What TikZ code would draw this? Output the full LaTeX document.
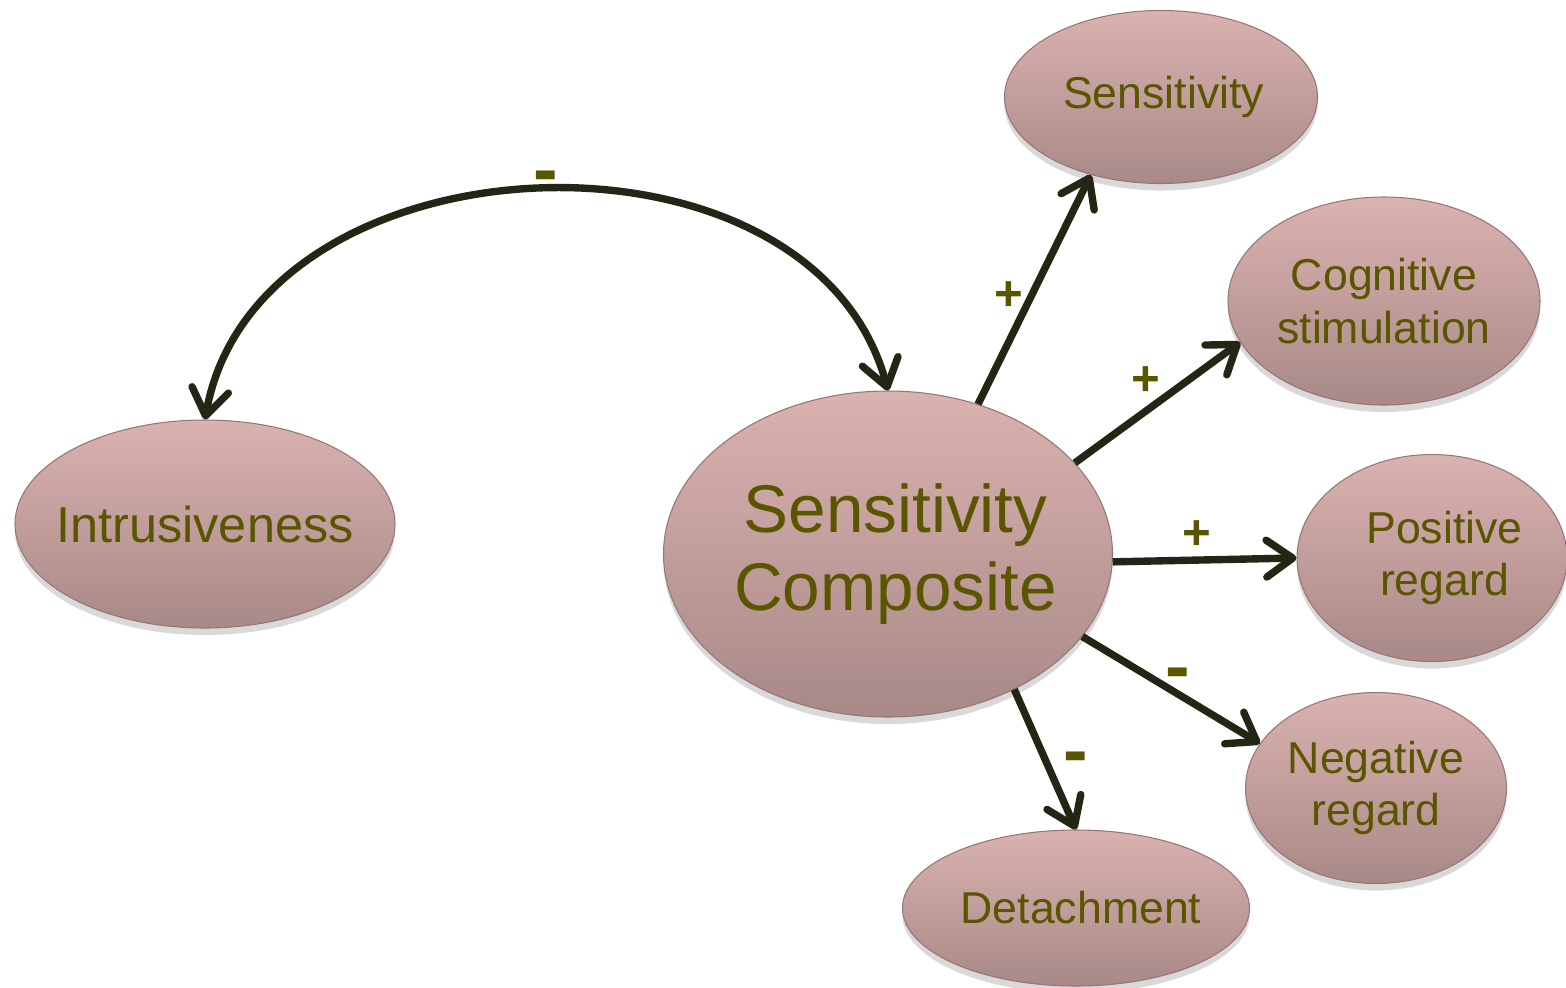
\documentclass[tikz,border=0pt]{standalone}
\usepackage{fontspec}
\setmainfont{Liberation Sans}
\usepackage{tikz}
\usetikzlibrary{shapes.geometric, arrows.meta, shadows, positioning}

\definecolor{labeltext}{RGB}{90,86,0}
\definecolor{arrowdark}{RGB}{35,38,20}
\definecolor{ovaltop}{RGB}{218,178,176}
\definecolor{ovalbottom}{RGB}{168,137,135}
\definecolor{ovalrim}{RGB}{150,118,116}

\begin{document}
\begin{tikzpicture}[
      oval/.style={ellipse, draw=ovalrim, line width=0.6pt, top color=ovaltop, bottom color=ovalbottom, inner xsep=-0.5cm, inner ysep=0pt, align=center, text=labeltext, drop shadow={shadow xshift=0pt, shadow yshift=-4pt, opacity=0.3}},
      small/.style={font=\fontsize{25.4}{30}\selectfont},
      barb/.tip={Straight Barb[length=15pt, width=21pt, round]},
      arrow/.style={line width=4.2pt, draw=arrowdark, -barb},
      twoway/.style={line width=4.2pt, draw=arrowdark, barb-barb},
      sign/.style={font=\fontsize{28}{30}\selectfont\bfseries, text=labeltext, inner sep=0pt},
      minus/.style={font=\fontsize{42}{44}\selectfont\bfseries, text=labeltext, inner sep=0pt}
    ]
    \useasboundingbox (0,0) rectangle (31.32,-19.74);

    % Nodes
    \node (comp) [oval, minimum width=8.98cm, minimum height=6.52cm, font=\fontsize{38.4}{44.3}\selectfont] at (17.76,-11.08) {\hspace*{0.3cm}Sensitivity\\\hspace*{0.3cm}Composite};
    \node (intr) [oval, minimum width=7.60cm, minimum height=4.16cm, font=\fontsize{28.7}{32}\selectfont] at (4.10,-10.48) {Intrusiveness};
    \node (sens) [oval, small, minimum width=6.26cm, minimum height=3.46cm] at (23.22,-1.94) {\hspace*{0.1cm}Sensitivity};
    \node (cog) [oval, small, minimum width=6.24cm, minimum height=4.16cm] at (27.68,-6.02) {Cognitive\\stimulation};
    \node (posr) [oval, small, minimum width=5.40cm, minimum height=4.14cm] at (28.64,-11.16) {\hspace*{0.5cm}Positive\\\hspace*{0.5cm}regard};
    \node (negr) [oval, small, minimum width=5.22cm, minimum height=3.82cm] at (27.52,-15.76) {Negative\\regard};
    \node (det) [oval, small, minimum width=6.94cm, minimum height=3.12cm] at (21.52,-18.16) {\hspace*{0.2cm}Detachment};

    % Connections
    \draw [arrow] (comp.59) -- node[sign, pos=0.47, xshift=-0.44cm] {+} (sens.228);
    \draw [arrow] (comp.26) -- node[sign, pos=0.43, yshift=0.6cm] {+} (cog.196);
    \draw [arrow] (comp.-2) -- node[sign, pos=0.46, yshift=0.5cm] {+} (posr.west);
    \draw [arrow] (comp.-23) -- node[minus, pos=0.54, yshift=0.29cm] {-} (negr.159);
    \draw [arrow] (comp.-47) -- node[minus, pos=0.48, xshift=0.64cm, yshift=-0.14cm] {-} (det.north);

    % Correlation
    \draw [twoway] (intr.north) to[out=80, in=105, looseness=1.1] node[minus, pos=0.5, xshift=0.18cm, yshift=0.14cm] {-} (comp.north);

  \end{tikzpicture}
\end{document}
